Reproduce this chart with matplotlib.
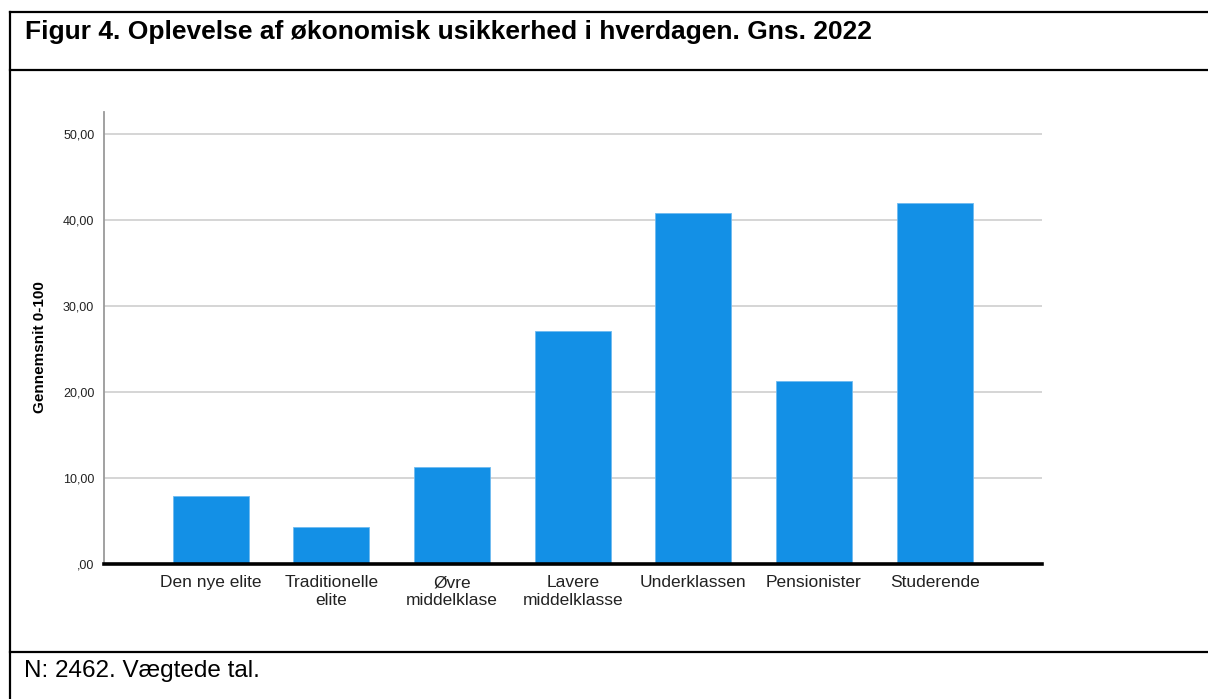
import matplotlib.pyplot as plt
from matplotlib.lines import Line2D
from matplotlib.ticker import FuncFormatter

# Data
categories = ["Den nye elite", "Traditionelle\nelite", "Øvre\nmiddelklase",
              "Lavere\nmiddelklasse", "Underklassen", "Pensionister", "Studerende"]
means = [7.94, 4.34, 11.24, 27.17, 40.85, 21.28, 42.06]
y_ticks = [0, 10, 20, 30, 40, 50]

title = "Figur 4. Oplevelse af økonomisk usikkerhed i hverdagen. Gns. 2022"
footer = "N: 2462. Vægtede tal."
y_label = "Gennemsnit 0-100"

W, H = 1208, 699
plt.rcParams["font.family"] = ["Liberation Sans", "DejaVu Sans"]

fig = plt.figure(figsize=(W / 100, H / 100), dpi=100)


def px(x, y):
    # pixel coords (top-left origin) -> figure fraction
    return x / W, 1 - y / H


# frame lines of the table box
for (x0, y0), (x1, y1) in [((10, 12), (W, 12)), ((10, 70), (W, 70)),
                           ((10, 652), (W, 652)), ((10, 12), (10, H))]:
    a, b = px(x0, y0)
    c, d = px(x1, y1)
    fig.add_artist(Line2D([a, c], [b, d], color="black", lw=1.6))

fig.text(*px(25, 32), title, fontsize=19, fontweight="bold",
         ha="left", va="center")
fig.text(*px(24, 671), footer, fontsize=17.5, ha="left", va="center")
fig.text(*px(40, 347), y_label, fontsize=11, fontweight="bold", rotation=90,
         ha="center", va="center")

# plot area
left, top, right, bottom = 104, 112, 1042, 564
ax = fig.add_axes([left / W, 1 - bottom / H, (right - left) / W, (bottom - top) / H])

x = list(range(len(categories)))
ax.bar(x, means, width=0.63, color="#1390e6", edgecolor="#6fbaf0", linewidth=0.6,
       zorder=3)

ax.set_xlim(-0.885, len(categories) - 1 + 0.89)
ax.set_ylim(0, 52.6)
ax.set_yticks(y_ticks)
ax.yaxis.set_major_formatter(FuncFormatter(
    lambda v, pos: (f"{v:.2f}".replace(".", ",")).lstrip("0") if v == 0
    else f"{v:.2f}".replace(".", ",")))
ax.set_xticks(x)
ax.set_xticklabels(categories, fontsize=12.5, color="#222222", linespacing=1.2)
ax.tick_params(axis="x", length=0, pad=8)
ax.tick_params(axis="y", length=0, pad=7, labelsize=9, labelcolor="#222222")

ax.grid(axis="y", color="#d2d2d2", lw=1.3, zorder=0)
ax.axhline(0, color="black", lw=2.6, zorder=4, clip_on=False)
for side in ["top", "right", "bottom"]:
    ax.spines[side].set_visible(False)
ax.spines["left"].set_color("#9a9a9a")
ax.spines["left"].set_linewidth(1.3)

fig.savefig("out.png", dpi=100)
